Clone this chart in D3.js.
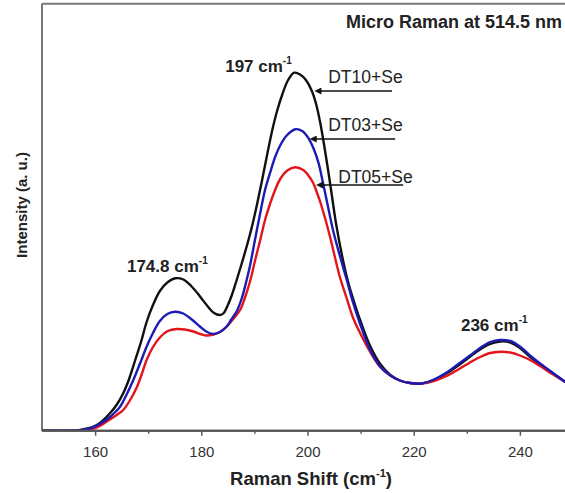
<!DOCTYPE html>
<html>
<head>
<meta charset="utf-8">
<script src="https://cdn.jsdelivr.net/npm/d3@7"></script>
<style>
  html, body { margin: 0; padding: 0; background: #fff; }
  svg { display: block; font-family: "Liberation Sans", Arial, sans-serif; }
</style>
</head>
<body>
<svg id="chart" width="565" height="493"></svg>
<script>
// ---- Data (Raman shift in cm^-1, intensity in arbitrary units) ----
const shiftDT10 = [150,155.3,157.2,158.5,159.7,160.9,162.8,164.1,165.3,166.4,167.5,168.7,169.7,170.9,172.2,173.6,175.1,176.6,178.1,179.8,181.3,182.4,183.48,184.24,185.0,185.76,186.55,187.50,188.57,189.57,190.51,191.45,192.39,193.33,194.27,195.22,196.35,197.5,198.6,199.7,200.8,201.62,202.37,203.13,203.88,204.63,205.39,206.52,207.65,208.78,209.91,211.8,213.7,215.6,217.4,219.3,221.5,223.8,226.2,228.4,230.6,232.5,234.4,236.3,238.2,240.0,241.9,243.8,246.1,248.5,250];
const intDT10   = [0,0,0.7,2.2,4,7.7,17.4,26.2,37.4,51.7,69.7,89.7,108.7,125.7,139.7,148.2,152.4,151.2,144.7,134,123.7,117.7,115.7,117.7,125.7,135.7,148.7,165.2,184.7,204.7,226.7,250.7,275.7,299.7,319.7,335.7,350.7,358,356.2,350.7,340,326.7,308.7,285.7,260.7,233.7,206.7,174.7,148.7,128.7,110.7,84.7,66.7,55.7,50.2,47.7,47.2,50.7,57.4,65.2,74,81.2,86.7,89.2,88.2,82.7,74,66.2,57.7,49,43.7];

const shiftDT03 = [150,155.3,157.6,159.1,160.9,162.8,163.8,164.7,165.8,167.2,168.5,169.7,170.9,172.2,173.6,175.1,176.6,178.1,179.8,181.1,182.3,183.5,184.7,185.6,186.7,187.7,188.4,189.2,190.1,191.1,192.0,193.0,193.9,194.8,196.0,197.7,199.0,200.2,201.1,202.1,202.8,203.6,204.8,206.1,207.4,208.6,209.9,211.8,213.7,215.6,217.4,219.3,221.5,223.8,226.2,228.4,230.6,232.5,234.4,236.3,238.2,240.0,241.9,243.8,246.1,248.5,250];
const intDT03   = [0,0,0.7,2.4,6.7,13.7,18.7,24,34.7,50.7,67.7,84,97.7,109.7,116.7,119,117.2,111.7,104,98.7,96.7,98.7,103.7,110.7,119.7,133.7,147.7,165.7,190.7,217.7,240.7,258.7,273.7,284.7,294.7,301.4,299.7,292.4,282.7,267.4,250.7,230.7,200.7,174.7,150.7,127.7,106.7,80.7,64,55.2,50.2,47.7,47.2,51.2,58.2,66.7,75.2,82.7,88.7,90.7,89.7,84.2,75.2,67.2,58.2,49,43.7];

const shiftDT05 = [150,156.2,158.1,160.0,160.9,163.2,164.2,165.3,166.6,167.9,168.8,169.7,170.9,172.2,173.7,175.4,176.9,178.5,179.8,180.9,182.3,183.5,184.7,186.0,187.3,188.2,189.2,190.1,191.1,192.0,193.0,193.9,194.8,196.2,197.7,199.2,200.1,201.1,201.8,202.4,203.3,204.3,205.2,206.1,207.3,208.6,209.9,211.8,213.7,215.6,217.4,219.3,221.5,223.8,226.2,228.4,230.6,232.5,234.4,236.3,238.2,240.0,241.9,243.8,246.1,248.5,250];
const intDT05   = [0,0,0.7,2.7,4.7,12.7,16.2,20.7,30.7,44,56.7,70.7,83.7,93.2,99.7,101.7,101.2,99.2,96.7,95.2,96.2,98.7,103.7,111.7,120.7,132.7,149.7,169.7,190.7,210.7,227.7,240.7,251.2,260.2,263.4,260.7,255.7,247.4,237.7,228.7,212.7,192.7,172.7,153.7,133.7,112.7,97.7,78.7,63.7,55.2,50.2,47.7,47.2,49.7,54.7,61.2,68.2,73.7,77.7,79,78.2,75.2,70.7,64.7,56.7,48.7,43.7];

const seriesNames  = ["DT10+Se", "DT05+Se", "DT03+Se"];
const seriesColors = ["#111111", "#e2141c", "#1c1cb4"];

const xTicksMajor = [160, 180, 200, 220, 240];
const xTicksMinor = [170, 190, 210, 230, 250];

// annotation anchors, in data units
const peakLabels  = ["197 cm", "174.8 cm", "236 cm"];
const peakLabelX  = [184.5, 166.0, 228.9];
const peakLabelY  = [359.2, 158.7, 99.7];

const sampleLabels = ["DT10+Se", "DT03+Se", "DT05+Se"];
const sampleLabelX = [203.9, 203.9, 205.8];
const sampleLabelY = [347.7, 299.7, 247.7];
const arrowTipX    = [200.8, 199.9, 201.1];
const arrowTipY    = [339.7, 291.7, 245.7];
const arrowTailX   = [215.9, 216.5, 218.0];

// ---- Layout ----
const svg = d3.select("#chart");
const mLeft = 42, mRight = 573, mTop = 3.7, mBottom = 430.7;

const x = d3.scaleLinear().domain([150, 250]).range([mLeft, mRight]);
const y = d3.scaleLinear().domain([0, 427]).range([mBottom, mTop]);

const defs = svg.append("defs");
defs.append("clipPath").attr("id", "clip")
  .append("rect").attr("x", mLeft).attr("y", mTop).attr("width", mRight - mLeft).attr("height", mBottom - mTop);

defs.append("marker")
  .attr("id", "arrow").attr("viewBox", "0 0 10 10").attr("refX", 1).attr("refY", 5)
  .attr("markerWidth", 9).attr("markerHeight", 7).attr("markerUnits", "userSpaceOnUse")
  .attr("orient", "auto")
  .append("path").attr("d", "M0,0 L10,5 L0,10 z").attr("fill", "#111");

// frame lines
svg.append("line").attr("x1", mLeft).attr("x2", mRight).attr("y1", mTop).attr("y2", mTop)
  .attr("stroke", "#777").attr("stroke-width", 2);
svg.append("line").attr("x1", mLeft).attr("x2", mLeft).attr("y1", mTop).attr("y2", mBottom)
  .attr("stroke", "#777").attr("stroke-width", 2);

// curves
const line = d3.line().x(d => x(d[0])).y(d => y(d[1])).curve(d3.curveCatmullRom.alpha(0.5));
const allSeries = [
  d3.zip(shiftDT10, intDT10),
  d3.zip(shiftDT05, intDT05),
  d3.zip(shiftDT03, intDT03)
];
svg.append("g").attr("clip-path", "url(#clip)")
  .selectAll("path").data(allSeries).join("path")
  .attr("d", line)
  .attr("fill", "none")
  .attr("stroke", (d, i) => seriesColors[i])
  .attr("stroke-width", 2.4)
  .attr("stroke-linejoin", "round");

// x axis
const gx = svg.append("g").attr("transform", `translate(0,${mBottom})`);
gx.append("g").call(d3.axisBottom(x).tickValues(xTicksMinor).tickSize(3).tickFormat(""));
gx.append("g").call(d3.axisBottom(x).tickValues(xTicksMajor).tickSize(5).tickPadding(11).tickFormat(d3.format("d")));
gx.selectAll(".domain").attr("stroke", "#555").attr("stroke-width", 2).attr("d", `M${mLeft},0H${mRight}`);
gx.selectAll(".tick line").attr("stroke", "#555").attr("stroke-width", 1.5);
gx.selectAll(".tick text").attr("font-size", 15).attr("fill", "#333")
  .attr("font-family", "Liberation Sans, Arial, sans-serif");

// axis titles
const xt = svg.append("text").attr("x", 311).attr("y", 485).attr("text-anchor", "middle")
  .attr("font-size", 18.5).attr("font-weight", "bold").attr("fill", "#222");
xt.append("tspan").text("Raman Shift (cm");
xt.append("tspan").attr("font-size", 11).attr("dy", -8).text("-1");
xt.append("tspan").attr("dy", 8).text(")");

svg.append("text").attr("transform", "translate(27,205) rotate(-90)").attr("text-anchor", "middle")
  .attr("font-size", 15).attr("font-weight", "bold").attr("fill", "#222")
  .text("Intensity (a. u.)");

// title
svg.append("text").attr("x", 562).attr("y", 28).attr("text-anchor", "end")
  .attr("font-size", 18).attr("font-weight", "bold").attr("fill", "#222")
  .text("Micro Raman at 514.5 nm");

// peak labels
peakLabels.forEach((t, i) => {
  const tx = svg.append("text").attr("x", x(peakLabelX[i])).attr("y", y(peakLabelY[i]))
    .attr("font-size", 17).attr("font-weight", "bold").attr("fill", "#222");
  tx.append("tspan").text(t);
  tx.append("tspan").attr("font-size", 10).attr("dy", -8).text("-1");
});

// sample labels with arrows
sampleLabels.forEach((t, i) => {
  svg.append("text").attr("x", x(sampleLabelX[i])).attr("y", y(sampleLabelY[i]))
    .attr("font-size", 17.5).attr("fill", "#222").text(t);
  svg.append("line")
    .attr("x1", x(arrowTailX[i])).attr("y1", y(arrowTipY[i]))
    .attr("x2", x(arrowTipX[i]) + 9).attr("y2", y(arrowTipY[i]))
    .attr("stroke", "#111").attr("stroke-width", 1.6)
    .attr("marker-end", "url(#arrow)");
});
</script>
</body>
</html>
